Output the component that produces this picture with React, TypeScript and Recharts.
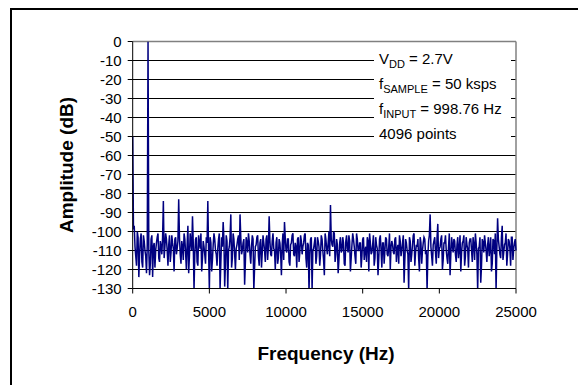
import { LineChart, Line, XAxis, YAxis, ReferenceLine } from "recharts"

// FFT bins: even bins every 100 Hz (0 ... 25000 Hz)
const binStepHz = 100
const amplitudeDb = [
  -50, -97, -113, -100, -124, -104, -116, -102, -110, -122, 0,
  -123, -104, -124, -106, -110, -103, -114, -105, -112, -84,
  -108, -104, -118, -102, -111, -106, -121, -103, -109, -83,
  -112, -105, -115, -104, -120, -97, -113, -106, -92, -131,
  -104, -116, -102, -109, -121, -105, -112, -103, -84, -131,
  -106, -115, -101, -110, -118, -104, -130, -103, -95, -129,
  -102, -131, -108, -91, -114, -104, -120, -107, -102, -91,
  -112, -106, -128, -103, -111, -105, -117, -102, -131, -108,
  -103, -113, -106, -119, -102, -110, -104, -115, -92, -112,
  -105, -109, -120, -103, -114, -106, -123, -101, -95, -110,
  -104, -116, -107, -102, -112, -106, -119, -103, -111, -105,
  -108, -102, -114, -106, -132, -104, -131, -109, -103, -113,
  -105, -118, -102, -110, -123, -104, -112, -100, -86, -107,
  -100, -116, -104, -122, -106, -111, -103, -117, -105, -109,
  -102, -121, -107, -104, -113, -101, -110, -106, -119, -104,
  -115, -108, -103, -121, -106, -111, -102, -114, -107, -123,
  -104, -110, -106, -117, -103, -112, -108, -120, -105, -111,
  -104, -116, -107, -102, -113, -106, -127, -104, -110, -131,
  -105, -112, -102, -118, -107, -104, -121, -106, -110, -103,
  -112, -131, -105, -91, -113, -107, -103, -117, -96, -109,
  -104, -120, -106, -102, -114, -108, -123, -103, -111, -105,
  -116, -103, -109, -121, -106, -102, -113, -107, -119, -104,
  -110, -103, -115, -106, -131, -108, -127, -104, -111, -106,
  -116, -103, -109, -121, -104, -112, -131, -93, -108, -114,
  -97, -111, -106, -118, -104, -109, -103, -115, -106, -110,
]

// in-between bins at 50, 150, ... 24950 Hz
const amplitudeDbMid = [
  -99, -108, -118, -103, -112, -101, -119, -105, -113, -107,
  -110, -117, -102, -108, -119, -106, -101, -116, -108, -103,
  -114, -101, -110, -107, -116, -102, -109, -104, -112, -105,
  -103, -117, -108, -101, -111, -107, -122, -101, -110, -106,
  -112, -103, -118, -106, -101, -114, -108, -117, -106, -110,
  -103, -121, -107, -104, -112, -109, -101, -116, -108, -104,
  -117, -105, -110, -103, -119, -101, -112, -109, -104, -115,
  -103, -110, -104, -116, -106, -101, -112, -108, -104, -119,
  -107, -102, -118, -104, -111, -106, -116, -102, -108, -105,
  -113, -101, -110, -106, -117, -104, -112, -107, -115, -103,
  -111, -104, -118, -106, -101, -113, -108, -104, -116, -102,
  -112, -106, -101, -119, -107, -112, -103, -110, -106, -117,
  -103, -108, -112, -104, -115, -101, -109, -106, -113, -104,
  -108, -101, -112, -107, -115, -103, -110, -106, -118, -102,
  -111, -105, -114, -101, -108, -117, -104, -110, -106, -113,
  -103, -110, -116, -105, -101, -112, -107, -118, -103, -109,
  -114, -102, -119, -106, -110, -104, -113, -101, -108, -107,
  -112, -103, -109, -117, -105, -110, -102, -115, -106, -112,
  -103, -116, -107, -101, -111, -108, -114, -103, -117, -106,
  -104, -110, -113, -102, -108, -118, -105, -111, -103, -114,
  -108, -102, -115, -106, -110, -117, -101, -112, -107, -104,
  -112, -107, -114, -102, -111, -105, -118, -103, -109, -106,
  -104, -116, -107, -101, -112, -109, -103, -118, -106, -102,
  -110, -107, -113, -103, -117, -105, -101, -110, -104, -112,
  -103, -115, -107, -101, -112, -105, -118, -103, -109, -104,
]

const xTicks = [0, 5000, 10000, 15000, 20000, 25000]
const xMinorTicks = [
  0, 1000, 2000, 3000, 4000, 5000, 6000, 7000, 8000, 9000, 10000, 11000, 12000,
  13000, 14000, 15000, 16000, 17000, 18000, 19000, 20000, 21000, 22000, 23000,
  24000, 25000,
]
const yTicks = [0, -10, -20, -30, -40, -50, -60, -70, -80, -90, -100, -110, -120, -130]
const gridLevels = [-10, -20, -30, -40, -50, -60, -70, -80, -90, -100, -110, -120]

const data: { hz: number; db: number }[] = []
amplitudeDb.forEach((db, i) => {
  data.push({ hz: i * binStepHz, db })
  if (i < amplitudeDbMid.length) {
    data.push({ hz: i * binStepHz + binStepHz / 2, db: amplitudeDbMid[i] })
  }
})

const font = "'Liberation Sans', Arial, sans-serif"
const tickStyle = { fill: "#000", fontSize: 15, fontFamily: font }

export default function App() {
  return (
    <div
      style={{
        position: "absolute",
        left: 0,
        top: 0,
        width: 578,
        height: 385,
        overflow: "hidden",
        background: "#fff",
        fontFamily: font,
      }}
    >
      <div
        style={{
          position: "absolute",
          left: 10,
          top: 8,
          width: 700,
          height: 500,
          borderLeft: "2px solid #000",
          borderTop: "2px solid #000",
        }}
      />
      <div style={{ position: "absolute", left: 0, top: 0 }}>
        <LineChart
          width={578}
          height={385}
          data={data}
          margin={{ top: 41.5, right: 62, bottom: 95.5, left: 131.7 }}
        >
          {gridLevels.map((v) => (
            <ReferenceLine key={v} y={v} stroke="#000" strokeWidth={1} />
          ))}
          <ReferenceLine y={0} stroke="#808080" strokeWidth={1.5} />
          <ReferenceLine x={25000} stroke="#808080" strokeWidth={1.5} />
          <XAxis
            dataKey="hz"
            type="number"
            domain={[0, 25000]}
            ticks={xTicks}
            height={1}
            tickSize={5}
            tickMargin={12.5}
            interval={0}
            stroke="#000"
            tick={tickStyle}
          />
          <XAxis
            xAxisId="minor"
            dataKey="hz"
            type="number"
            domain={[0, 25000]}
            ticks={xMinorTicks}
            height={1}
            mirror
            tickSize={4}
            interval={0}
            axisLine={false}
            tick={false}
            stroke="#000"
          />
          <YAxis
            type="number"
            domain={[-130, 0]}
            ticks={yTicks}
            allowDataOverflow
            width={1}
            tickSize={5}
            tickMargin={6}
            interval={0}
            stroke="#000"
            tick={tickStyle}
          />
          <YAxis
            yAxisId="inner"
            type="number"
            domain={[-130, 0]}
            ticks={yTicks}
            width={1}
            mirror
            tickSize={3}
            interval={0}
            axisLine={false}
            tick={false}
            stroke="#000"
          />
          <Line
            dataKey="db"
            type="linear"
            stroke="#000080"
            strokeWidth={1.5}
            dot={false}
            isAnimationActive={false}
          />
        </LineChart>
      </div>
      <svg
        width={578}
        height={385}
        style={{ position: "absolute", left: 0, top: 0, pointerEvents: "none" }}
        fontFamily={font}
      >
        <rect x={374} y={47} width={137} height={97} fill="#fff" />
        <g fontSize={15} fill="#000">
          <text x={379} y={63.5}>
            V<tspan fontSize={11} dy={4}>DD</tspan>
            <tspan dy={-4}> = 2.7V</tspan>
          </text>
          <text x={379} y={88.5}>
            f<tspan fontSize={11} dy={4}>SAMPLE</tspan>
            <tspan dy={-4}> = 50 ksps</tspan>
          </text>
          <text x={379} y={114}>
            f<tspan fontSize={11} dy={4}>INPUT</tspan>
            <tspan dy={-4}> = 998.76 Hz</tspan>
          </text>
          <text x={379} y={138.5}>4096 points</text>
        </g>
        <text
          x={73.4}
          y={165}
          transform="rotate(-90 73.4 165)"
          textAnchor="middle"
          fontSize={19}
          fontWeight="bold"
        >
          Amplitude (dB)
        </text>
        <text x={326} y={360} textAnchor="middle" fontSize={19} fontWeight="bold">
          Frequency (Hz)
        </text>
      </svg>
    </div>
  )
}
